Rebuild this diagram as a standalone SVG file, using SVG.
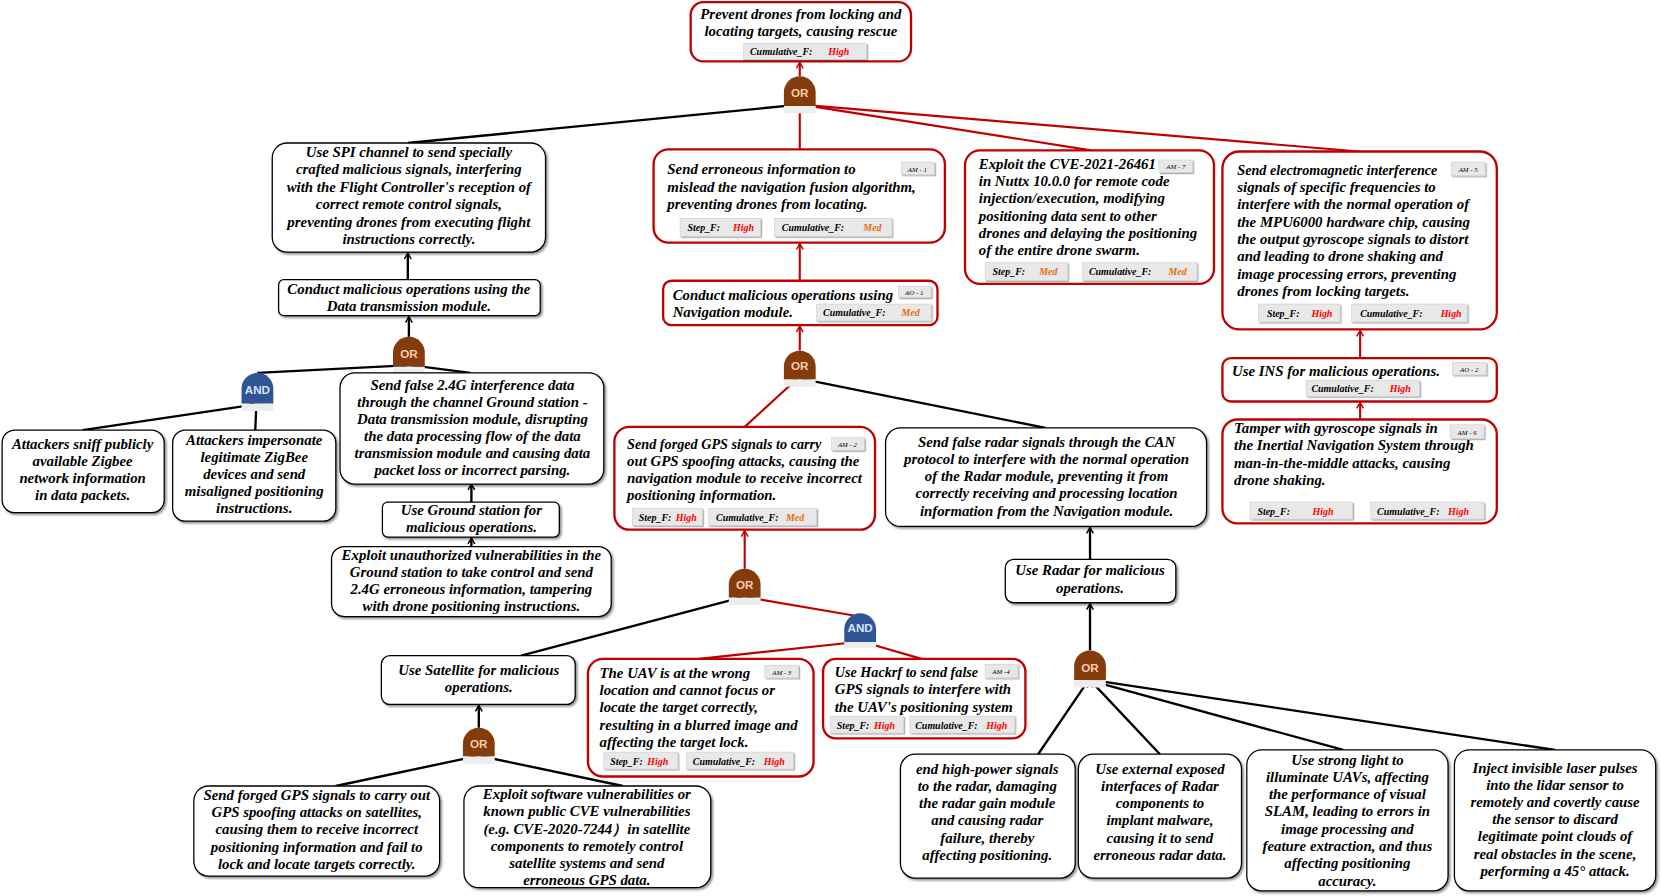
<svg xmlns="http://www.w3.org/2000/svg" width="1661" height="896" viewBox="0 0 1661 896">
<defs>
<style>
.nb{fill:#fff;stroke:#000;stroke-width:1.2}
.rb{fill:#fff;stroke:#C00000;stroke-width:2.2}
.t{font-family:"Liberation Serif","DejaVu Serif",serif;font-style:italic;font-weight:bold;font-size:14px;fill:#000}
.s{font-size:13.4px}
.c{text-anchor:middle}
.bd{fill:#E8E8E8;stroke:#C8C8C8;stroke-width:0.5}
.bt{font-family:"Liberation Serif",serif;font-style:italic;font-weight:bold;font-size:9.4px;fill:#000}
.hi{fill:#FF0000}
.md{fill:#E46C0A}
.am{font-family:"Liberation Serif",serif;font-style:italic;font-size:6.5px;fill:#000;text-anchor:middle}
.or{fill:#843C0C}
.and{fill:#2F5597}
.gt{font-family:"Liberation Sans",Arial,sans-serif;font-weight:bold;font-size:11px;text-anchor:middle}
.ort{fill:#F8CBAD}
.andt{fill:#DAE3F3}
.gs{fill:#EDEDED}
.bl{stroke:#000;stroke-width:2.2;fill:none}
.rl{stroke:#C00000;stroke-width:2;fill:none}
</style>
<filter id="sh" x="-10%" y="-10%" width="130%" height="130%"><feDropShadow dx="1.6" dy="1.6" stdDeviation="0.8" flood-color="#000" flood-opacity="0.45"/></filter>
<filter id="bs" x="-10%" y="-20%" width="130%" height="160%"><feDropShadow dx="1.2" dy="1.2" stdDeviation="0.5" flood-color="#000" flood-opacity="0.35"/></filter>
<marker id="ab" markerWidth="8" markerHeight="8" refX="6" refY="4" orient="auto" markerUnits="userSpaceOnUse"><path d="M0.5,0.8 L6,4 L0.5,7.2" fill="none" stroke="#000" stroke-width="1.4"/></marker>
<marker id="ar" markerWidth="8" markerHeight="8" refX="6" refY="4" orient="auto" markerUnits="userSpaceOnUse"><path d="M0.5,0.8 L6,4 L0.5,7.2" fill="none" stroke="#C00000" stroke-width="1.4"/></marker>
</defs>
<rect width="1661" height="896" fill="#fff"/>
<g transform="scale(1.0593)">

<g id="connectors">
<line class="rl" x1="755" y1="72" x2="755" y2="59" marker-end="url(#ar)"/>
<line class="bl" x1="385" y1="135" x2="752" y2="99" marker-end="url(#ab)"/>
<line class="rl" x1="755" y1="141" x2="755" y2="100" marker-end="url(#ar)"/>
<line class="rl" x1="1030" y1="142" x2="758" y2="99" marker-end="url(#ar)"/>
<line class="rl" x1="1283" y1="143" x2="759" y2="99" marker-end="url(#ar)"/>
<line class="bl" x1="385" y1="264" x2="385" y2="239" marker-end="url(#ab)"/>
<line class="bl" x1="386" y1="318" x2="386" y2="299" marker-end="url(#ab)"/>
<line class="bl" x1="243" y1="352" x2="383" y2="345" marker-end="url(#ab)"/>
<line class="bl" x1="444" y1="352" x2="389" y2="345" marker-end="url(#ab)"/>
<line class="bl" x1="78" y1="406" x2="240" y2="382" marker-end="url(#ab)"/>
<line class="bl" x1="241" y1="406" x2="242" y2="382" marker-end="url(#ab)"/>
<line class="bl" x1="445" y1="474" x2="445" y2="457" marker-end="url(#ab)"/>
<line class="bl" x1="445" y1="516" x2="445" y2="508" marker-end="url(#ab)"/>
<line class="rl" x1="755" y1="265" x2="755" y2="230" marker-end="url(#ar)"/>
<line class="rl" x1="755" y1="331" x2="755" y2="308" marker-end="url(#ar)"/>
<line class="rl" x1="703" y1="403" x2="752" y2="358" marker-end="url(#ar)"/>
<line class="bl" x1="987" y1="404" x2="758" y2="358" marker-end="url(#ab)"/>
<line class="rl" x1="703" y1="537" x2="703" y2="501" marker-end="url(#ar)"/>
<line class="bl" x1="492" y1="619" x2="700" y2="564" marker-end="url(#ab)"/>
<line class="rl" x1="806" y1="581" x2="706" y2="564" marker-end="url(#ar)"/>
<line class="rl" x1="660" y1="622" x2="809" y2="606" marker-end="url(#ar)"/>
<line class="rl" x1="870" y1="622" x2="815" y2="606" marker-end="url(#ar)"/>
<line class="bl" x1="452" y1="687" x2="452" y2="666" marker-end="url(#ab)"/>
<line class="bl" x1="317" y1="742" x2="449" y2="714" marker-end="url(#ab)"/>
<line class="bl" x1="588" y1="742" x2="455" y2="714" marker-end="url(#ab)"/>
<line class="rl" x1="1284" y1="338" x2="1284" y2="312" marker-end="url(#ar)"/>
<line class="rl" x1="1284" y1="396" x2="1284" y2="380" marker-end="url(#ar)"/>
<line class="bl" x1="1029" y1="528" x2="1029" y2="498" marker-end="url(#ab)"/>
<line class="bl" x1="1029" y1="614" x2="1029" y2="570" marker-end="url(#ab)"/>
<line class="bl" x1="980" y1="712" x2="1027" y2="643" marker-end="url(#ab)"/>
<line class="bl" x1="1095" y1="712" x2="1030" y2="643" marker-end="url(#ab)"/>
<line class="bl" x1="1268" y1="708" x2="1031" y2="643" marker-end="url(#ab)"/>
<line class="bl" x1="1468" y1="708" x2="1032" y2="642" marker-end="url(#ab)"/>
</g>

<g id="gate-or-top">
<rect class="gs" x="740" y="100" width="30" height="7"/>
<path class="or" d="M740,100 V87 A15,15 0 0 1 770,87 V100 Z"/>
<text class="gt ort" x="755" y="92">OR</text>
</g>
<g id="gate-or-data">
<rect class="gs" x="371" y="346" width="30" height="7"/>
<path class="or" d="M371,346 V333 A15,15 0 0 1 401,333 V346 Z"/>
<text class="gt ort" x="386" y="338">OR</text>
</g>
<g id="gate-and-zigbee">
<rect class="gs" x="228" y="381" width="30" height="7"/>
<path class="and" d="M228,381 V367 A15,15 0 0 1 258,367 V381 Z"/>
<text class="gt andt" x="243" y="372">AND</text>
</g>
<g id="gate-or-nav">
<rect class="gs" x="740" y="358" width="30" height="7"/>
<path class="or" d="M740,358 V346 A15,15 0 0 1 770,346 V358 Z"/>
<text class="gt ort" x="755" y="349">OR</text>
</g>
<g id="gate-or-gps">
<rect class="gs" x="688" y="564" width="30" height="7"/>
<path class="or" d="M688,564 V552 A15,15 0 0 1 718,552 V564 Z"/>
<text class="gt ort" x="703" y="556">OR</text>
</g>
<g id="gate-and-gps">
<rect class="gs" x="797" y="606" width="30" height="6"/>
<path class="and" d="M797,606 V594 A15,15 0 0 1 827,594 V606 Z"/>
<text class="gt andt" x="812" y="597">AND</text>
</g>
<g id="gate-or-sat">
<rect class="gs" x="437" y="714" width="30" height="7"/>
<path class="or" d="M437,714 V702 A15,15 0 0 1 467,702 V714 Z"/>
<text class="gt ort" x="452" y="706">OR</text>
</g>
<g id="gate-or-radar">
<rect class="gs" x="1014" y="642" width="30" height="7"/>
<path class="or" d="M1014,642 V629 A15,15 0 0 1 1044,629 V642 Z"/>
<text class="gt ort" x="1029" y="634">OR</text>
</g>

<g id="n-root">
<rect class="rb" x="652" y="2" width="208" height="56" rx="12"/>
<text class="t c" x="756" y="18">Prevent drones from locking and</text>
<text class="t c" x="756" y="34">locating targets, causing rescue</text>
<rect class="bd" x="702" y="41" width="116" height="15" filter="url(#bs)"/>
<text class="bt" x="708" y="52">Cumulative_F:</text><text class="bt hi" x="782" y="52">High</text>
</g>

<g id="n-spi">
<rect class="nb" x="257" y="135" width="258" height="103" rx="14" filter="url(#sh)"/>
<text class="t c" x="386" y="148">Use  SPI channel  to send specially</text>
<text class="t c" x="386" y="164">crafted malicious signals, interfering</text>
<text class="t c" x="386" y="181">with the Flight Controller's reception of</text>
<text class="t c" x="386" y="197">correct remote control signals,</text>
<text class="t c" x="386" y="214">preventing drones from executing flight</text>
<text class="t c" x="386" y="230">instructions correctly.</text>
</g>

<g id="n-data">
<rect class="nb" x="263" y="264" width="247" height="34" rx="5" filter="url(#sh)"/>
<text class="t c" x="386" y="278">Conduct malicious operations using the</text>
<text class="t c" x="386" y="294">Data transmission module.</text>
</g>

<g id="n-sniff">
<rect class="nb" x="2" y="406" width="153" height="78" rx="12" filter="url(#sh)"/>
<text class="t c" x="78" y="424">Attackers sniff publicly</text>
<text class="t c" x="78" y="440">available Zigbee</text>
<text class="t c" x="78" y="456">network information</text>
<text class="t c" x="78" y="472">in data packets.</text>
</g>

<g id="n-impersonate">
<rect class="nb" x="163" y="406" width="154" height="86" rx="12" filter="url(#sh)"/>
<text class="t c" x="240" y="420">Attackers impersonate</text>
<text class="t c" x="240" y="436">legitimate ZigBee</text>
<text class="t c" x="240" y="452">devices and send</text>
<text class="t c" x="240" y="468">misaligned positioning</text>
<text class="t c" x="240" y="484">instructions.</text>
</g>

<g id="n-24g">
<rect class="nb" x="321" y="352" width="249" height="105" rx="14" filter="url(#sh)"/>
<text class="t c" x="446" y="368">Send false 2.4G interference data</text>
<text class="t c" x="446" y="384">through the channel Ground station -</text>
<text class="t c" x="446" y="400">Data transmission module, disrupting</text>
<text class="t c" x="446" y="416">the data processing flow of the data</text>
<text class="t c" x="446" y="432">transmission module and causing data</text>
<text class="t c" x="446" y="448">packet loss or incorrect parsing.</text>
</g>

<g id="n-ground">
<rect class="nb" x="361" y="474" width="167" height="33" rx="5" filter="url(#sh)"/>
<text class="t c" x="445" y="486">Use Ground station for</text>
<text class="t c" x="445" y="502">malicious operations.</text>
</g>

<g id="n-unauth">
<rect class="nb" x="313" y="516" width="264" height="66" rx="12" filter="url(#sh)"/>
<text class="t c" x="445" y="529">Exploit unauthorized vulnerabilities in the</text>
<text class="t c" x="445" y="545">Ground station to take control and send</text>
<text class="t c" x="445" y="561">2.4G erroneous information, tampering</text>
<text class="t c" x="445" y="577">with drone positioning instructions.</text>
</g>

<g id="n-am1">
<rect class="rb" x="617" y="141" width="275" height="88" rx="14"/>
<text class="t" x="630" y="164">Send erroneous information to</text>
<text class="t" x="630" y="181">mislead the navigation fusion algorithm,</text>
<text class="t" x="630" y="197">preventing drones from locating.</text>
<rect class="bd" x="851" y="153" width="31" height="12" filter="url(#bs)"/>
<text class="am" x="866" y="162">AM - 1</text>
<rect class="bd" x="642" y="206" width="76" height="17" filter="url(#bs)"/>
<text class="bt" x="649" y="218">Step_F:</text><text class="bt hi" x="692" y="218">High</text>
<rect class="bd" x="731" y="206" width="111" height="17" filter="url(#bs)"/>
<text class="bt" x="738" y="218">Cumulative_F:</text><text class="bt md" x="815" y="218">Med</text>
</g>

<g id="n-ao1">
<rect class="rb" x="626" y="265" width="259" height="42" rx="8"/>
<text class="t" x="635" y="283">Conduct malicious operations using</text>
<text class="t" x="635" y="299">Navigation module.</text>
<rect class="bd" x="848" y="270" width="31" height="11" filter="url(#bs)"/>
<text class="am" x="863" y="278.5">AO - 1</text>
<rect class="bd" x="771" y="287" width="108" height="16" filter="url(#bs)"/>
<text class="bt" x="777" y="298.5">Cumulative_F:</text><text class="bt md" x="851" y="298.5">Med</text>
</g>

<g id="n-am2">
<rect class="rb" x="580" y="403" width="246" height="97" rx="14"/>
<text class="t s" x="592" y="424">Send forged GPS signals to carry</text>
<text class="t" x="592" y="440">out GPS spoofing attacks, causing the</text>
<text class="t" x="592" y="456">navigation module to receive incorrect</text>
<text class="t" x="592" y="472">positioning information.</text>
<rect class="bd" x="785" y="413" width="31" height="12" filter="url(#bs)"/>
<text class="am" x="800" y="422">AM - 2</text>
<rect class="bd" x="597" y="480" width="66" height="16" filter="url(#bs)"/>
<text class="bt" x="603" y="492">Step_F:</text><text class="bt hi" x="638" y="492">High</text>
<rect class="bd" x="669" y="480" width="102" height="16" filter="url(#bs)"/>
<text class="bt" x="676" y="492">Cumulative_F:</text><text class="bt md" x="742" y="492">Med</text>
</g>

<g id="n-am3">
<rect class="rb" x="555" y="622" width="213" height="111" rx="14"/>
<text class="t" x="566" y="640">The UAV is at the wrong</text>
<text class="t" x="566" y="656">location and cannot focus or</text>
<text class="t" x="566" y="672">locate the target correctly,</text>
<text class="t" x="566" y="689">resulting in a blurred image and</text>
<text class="t" x="566" y="705">affecting the target lock.</text>
<rect class="bd" x="722" y="628" width="32" height="12" filter="url(#bs)"/>
<text class="am" x="738" y="637">AM - 3</text>
<rect class="bd" x="570" y="710" width="70" height="16" filter="url(#bs)"/>
<text class="bt" x="576" y="722">Step_F:</text><text class="bt hi" x="611" y="722">High</text>
<rect class="bd" x="648" y="710" width="101" height="16" filter="url(#bs)"/>
<text class="bt" x="654" y="722">Cumulative_F:</text><text class="bt hi" x="721" y="722">High</text>
</g>

<g id="n-am4">
<rect class="rb" x="777" y="622" width="191" height="75" rx="12"/>
<text class="t s" x="788" y="639">Use Hackrf to send false</text>
<text class="t" x="788" y="655">GPS signals to interfere with</text>
<text class="t" x="788" y="672">the UAV's positioning system</text>
<rect class="bd" x="930" y="627" width="31" height="13" filter="url(#bs)"/>
<text class="am" x="945" y="636">AM -4</text>
<rect class="bd" x="784" y="676" width="69" height="16" filter="url(#bs)"/>
<text class="bt" x="790" y="688">Step_F:</text><text class="bt hi" x="825" y="688">High</text>
<rect class="bd" x="859" y="676" width="99" height="16" filter="url(#bs)"/>
<text class="bt" x="864" y="688">Cumulative_F:</text><text class="bt hi" x="931" y="688">High</text>
</g>

<g id="n-satellite">
<rect class="nb" x="360" y="619" width="183" height="46" rx="8" filter="url(#sh)"/>
<text class="t c" x="452" y="637">Use Satellite for malicious</text>
<text class="t c" x="452" y="653">operations.</text>
</g>

<g id="n-sat-gps">
<rect class="nb" x="183" y="742" width="232" height="85" rx="14" filter="url(#sh)"/>
<text class="t c" x="299" y="755">Send forged GPS signals to carry out</text>
<text class="t c" x="299" y="771">GPS spoofing attacks on satellites,</text>
<text class="t c" x="299" y="787">causing them to receive incorrect</text>
<text class="t c" x="299" y="804">positioning information and fail to</text>
<text class="t c" x="299" y="820">lock and locate targets correctly.</text>
</g>

<g id="n-sat-cve">
<rect class="nb" x="438" y="742" width="233" height="96" rx="14" filter="url(#sh)"/>
<text class="t c" x="554" y="754">Exploit software vulnerabilities or</text>
<text class="t c" x="554" y="770">known public CVE vulnerabilities</text>
<text class="t c" x="554" y="787">(e.g. CVE-2020-7244）in satellite</text>
<text class="t c" x="554" y="803">components to remotely control</text>
<text class="t c" x="554" y="819">satellite systems and send</text>
<text class="t c" x="554" y="835">erroneous GPS data.</text>
</g>

<g id="n-am7">
<rect class="rb" x="911" y="142" width="235" height="126" rx="14"/>
<text class="t" x="924" y="160">Exploit the CVE-2021-26461</text>
<text class="t" x="924" y="176"> in Nuttx 10.0.0 for remote code</text>
<text class="t" x="924" y="192">injection/execution, modifying</text>
<text class="t" x="924" y="209">positioning data sent to other</text>
<text class="t" x="924" y="225">drones and delaying the positioning</text>
<text class="t" x="924" y="241">of the entire drone swarm.</text>
<rect class="bd" x="1094" y="151" width="32" height="12" filter="url(#bs)"/>
<text class="am" x="1110" y="160">AM - 7</text>
<rect class="bd" x="930" y="248" width="78" height="17" filter="url(#bs)"/>
<text class="bt" x="937" y="260">Step_F:</text><text class="bt md" x="981" y="260">Med</text>
<rect class="bd" x="1022" y="248" width="108" height="17" filter="url(#bs)"/>
<text class="bt" x="1028" y="260">Cumulative_F:</text><text class="bt md" x="1103" y="260">Med</text>
</g>

<g id="n-am5">
<rect class="rb" x="1154" y="143" width="259" height="168" rx="16"/>
<text class="t s" x="1168" y="165">Send electromagnetic interference</text>
<text class="t" x="1168" y="181">signals of specific frequencies to</text>
<text class="t" x="1168" y="197">interfere with the normal operation of</text>
<text class="t" x="1168" y="214">the MPU6000 hardware chip, causing</text>
<text class="t" x="1168" y="230">the output gyroscope signals to distort</text>
<text class="t" x="1168" y="246">and leading to drone shaking and</text>
<text class="t" x="1168" y="263">image processing errors, preventing</text>
<text class="t" x="1168" y="279">drones from locking targets.</text>
<rect class="bd" x="1370" y="153" width="32" height="13" filter="url(#bs)"/>
<text class="am" x="1386" y="162.5">AM - 5</text>
<rect class="bd" x="1188" y="287" width="77" height="17" filter="url(#bs)"/>
<text class="bt" x="1196" y="299">Step_F:</text><text class="bt hi" x="1238" y="299">High</text>
<rect class="bd" x="1276" y="287" width="109" height="17" filter="url(#bs)"/>
<text class="bt" x="1284" y="299">Cumulative_F:</text><text class="bt hi" x="1360" y="299">High</text>
</g>

<g id="n-ao2">
<rect class="rb" x="1154" y="338" width="259" height="41" rx="8"/>
<text class="t" x="1163" y="355">Use INS for malicious operations.</text>
<rect class="bd" x="1371" y="342" width="32" height="12" filter="url(#bs)"/>
<text class="am" x="1387" y="351">AO - 2</text>
<rect class="bd" x="1233" y="359" width="107" height="15" filter="url(#bs)"/>
<text class="bt" x="1238" y="370">Cumulative_F:</text><text class="bt hi" x="1312" y="370">High</text>
</g>

<g id="n-am6">
<rect class="rb" x="1154" y="396" width="259" height="98" rx="14"/>
<text class="t" x="1165" y="409">Tamper with gyroscope signals in</text>
<text class="t" x="1165" y="425">the Inertial Navigation System through</text>
<text class="t" x="1165" y="442">man-in-the-middle attacks, causing</text>
<text class="t" x="1165" y="458">drone shaking.</text>
<rect class="bd" x="1369" y="401" width="32" height="13" filter="url(#bs)"/>
<text class="am" x="1385" y="410.5">AM - 6</text>
<rect class="bd" x="1180" y="474" width="97" height="16" filter="url(#bs)"/>
<text class="bt" x="1187" y="486">Step_F:</text><text class="bt hi" x="1239" y="486">High</text>
<rect class="bd" x="1294" y="474" width="107" height="16" filter="url(#bs)"/>
<text class="bt" x="1300" y="486">Cumulative_F:</text><text class="bt hi" x="1367" y="486">High</text>
</g>

<g id="n-radar-can">
<rect class="nb" x="836" y="404" width="303" height="93" rx="14" filter="url(#sh)"/>
<text class="t c" x="988" y="422">Send false radar signals through the CAN</text>
<text class="t c" x="988" y="438">protocol to interfere with the normal operation</text>
<text class="t c" x="988" y="454">of the Radar module, preventing it from</text>
<text class="t c" x="988" y="470">correctly receiving and processing location</text>
<text class="t c" x="988" y="487">information from the Navigation module.</text>
</g>

<g id="n-radar">
<rect class="nb" x="949" y="528" width="161" height="41" rx="8" filter="url(#sh)"/>
<text class="t c" x="1029" y="543">Use Radar for malicious</text>
<text class="t c" x="1029" y="560">operations.</text>
</g>

<g id="n-highpower">
<rect class="nb" x="850" y="712" width="165" height="117" rx="14" filter="url(#sh)"/>
<text class="t c" x="932" y="731">end high-power signals</text>
<text class="t c" x="932" y="747">to the radar, damaging</text>
<text class="t c" x="932" y="763">the radar gain module</text>
<text class="t c" x="932" y="779">and causing radar</text>
<text class="t c" x="932" y="796">failure, thereby</text>
<text class="t c" x="932" y="812">affecting positioning.</text>
</g>

<g id="n-external">
<rect class="nb" x="1018" y="712" width="154" height="117" rx="14" filter="url(#sh)"/>
<text class="t c" x="1095" y="731">Use external exposed</text>
<text class="t c" x="1095" y="747">interfaces of Radar</text>
<text class="t c" x="1095" y="763">components to</text>
<text class="t c" x="1095" y="779">implant malware,</text>
<text class="t c" x="1095" y="796">causing it to send</text>
<text class="t c" x="1095" y="812">erroneous radar data.</text>
</g>

<g id="n-light">
<rect class="nb" x="1177" y="708" width="190" height="133" rx="14" filter="url(#sh)"/>
<text class="t c" x="1272" y="722">Use strong light to</text>
<text class="t c" x="1272" y="738">illuminate UAVs, affecting</text>
<text class="t c" x="1272" y="754">the performance of visual</text>
<text class="t c" x="1272" y="770">SLAM, leading to errors in</text>
<text class="t c" x="1272" y="787">image processing and</text>
<text class="t c" x="1272" y="803">feature extraction, and thus</text>
<text class="t c" x="1272" y="819">affecting positioning</text>
<text class="t c" x="1272" y="836">accuracy.</text>
</g>

<g id="n-lidar">
<rect class="nb" x="1373" y="708" width="190" height="133" rx="14" filter="url(#sh)"/>
<text class="t c" x="1468" y="730">Inject invisible laser pulses</text>
<text class="t c" x="1468" y="746">into the lidar sensor to</text>
<text class="t c" x="1468" y="762">remotely and covertly cause</text>
<text class="t c" x="1468" y="778">the sensor to discard</text>
<text class="t c" x="1468" y="794">legitimate point clouds of</text>
<text class="t c" x="1468" y="811">real obstacles in the scene,</text>
<text class="t c" x="1468" y="827">performing a 45° attack.</text>
</g>

</g>
</svg>
